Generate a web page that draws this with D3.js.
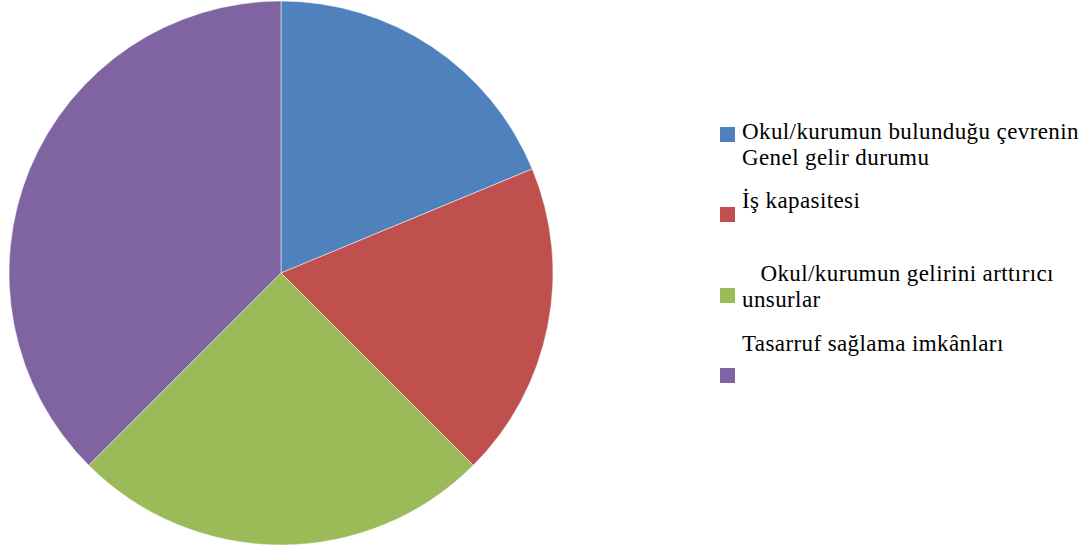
<!DOCTYPE html>
<html>
<head>
<meta charset="utf-8">
<script src="https://cdn.jsdelivr.net/npm/d3@7"></script>
<style>
  body { margin: 0; background: #fff; }
  text { font-family: "Liberation Serif", "Times New Roman", serif; white-space: pre; }
</style>
</head>
<body>
<div id="chart"></div>
<script>
const categories = [
  "Okul/kurumun bulunduğu çevrenin Genel gelir durumu",
  "İş kapasitesi",
  "Okul/kurumun gelirini arttırıcı unsurlar",
  "Tasarruf sağlama imkânları"
];
// legend text as it wraps in the picture
const legendLines = [
  ["Okul/kurumun bulunduğu çevrenin", "Genel gelir durumu"],
  ["İş kapasitesi"],
  ["   Okul/kurumun gelirini arttırıcı", "unsurlar"],
  ["Tasarruf sağlama imkânları", ""]
];
const values = [3, 3, 4, 6];
const colors = ["#4F81BD", "#C0504D", "#9BBB59", "#8064A2"];

const width = 1086, height = 552;
const cx = 281, cy = 273, radius = 272;

const svg = d3.select("#chart").append("svg")
  .attr("width", width)
  .attr("height", height);

const color = d3.scaleOrdinal().domain(categories).range(colors);

const pie = d3.pie().sort(null).value(d => d.value);
const arc = d3.arc().innerRadius(0).outerRadius(radius);

const data = categories.map((c, i) => ({ name: c, value: values[i] }));

svg.append("g")
  .attr("transform", `translate(${cx},${cy})`)
  .selectAll("path")
  .data(pie(data))
  .enter().append("path")
  .attr("d", arc)
  .attr("fill", d => color(d.data.name))
  .attr("stroke", "#fff")
  .attr("stroke-width", 0.5);

// legend
const legendTop = [139, 208, 281, 351]; // first baseline per entry
const swatchY = [127, 207, 288, 368];
const lineH = 26;
const legend = svg.append("g");

categories.forEach((c, i) => {
  legend.append("rect")
    .attr("x", 720)
    .attr("y", swatchY[i])
    .attr("width", 15)
    .attr("height", 15)
    .attr("fill", color(c));
  legendLines[i].forEach((ln, j) => {
    legend.append("text")
      .attr("x", 742)
      .attr("y", legendTop[i] + j * lineH)
      .attr("font-size", 23)
      .attr("letter-spacing", 0.4)
      .attr("fill", "#000")
      .text(ln);
  });
});
</script>
</body>
</html>
